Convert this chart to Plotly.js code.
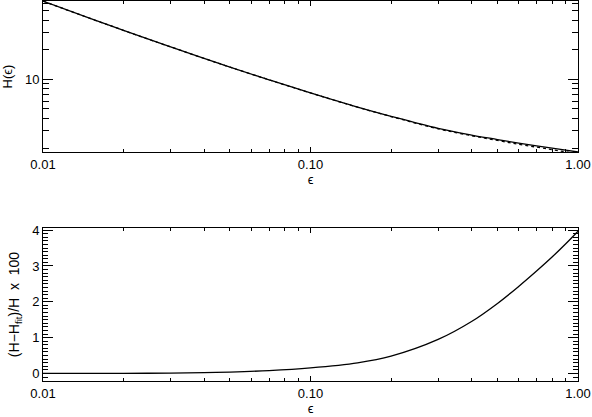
<!DOCTYPE html>
<html>
<head>
<meta charset="utf-8">
<script src="https://cdn.plot.ly/plotly-3.0.1.min.js"></script>
<style>
  html, body { margin: 0; padding: 0; background: #fff; }
  #chart { width: 592px; height: 417px; }
</style>
</head>
<body>
<div id="chart"></div>
<script>
// values
const eps = [0.01, 0.015, 0.02, 0.03, 0.04, 0.05, 0.07, 0.1, 0.15, 0.2, 0.3, 0.4, 0.5, 0.6, 0.7, 0.8, 0.9, 1.0];
const hVals = [63.0, 42.0, 31.7, 21.5, 16.4, 13.38, 9.92, 7.30, 5.23, 4.21, 3.17, 2.71, 2.44, 2.24, 2.10, 1.99, 1.90, 1.82];
const hFit = [63.0, 42.0, 31.7, 21.5, 16.4, 13.37, 9.91, 7.29, 5.21, 4.19, 3.14, 2.67, 2.39, 2.18, 2.04, 1.92, 1.83, 1.75];
const relDiff = [0, 0.002, 0.004, 0.01, 0.025, 0.04, 0.08, 0.155, 0.296, 0.483, 0.95, 1.45, 1.955, 2.43, 2.86, 3.25, 3.62, 3.97];

const xTickVals = [0.01, 0.1, 1];
const xTickText = ["0.01", "0.10", "1.00"];

const chartDiv = document.getElementById("chart");
const fnt = {family: "Liberation Sans, Arial, sans-serif", size: 13, color: "#000"};

const traces = [
    {x: eps, y: hFit, xaxis: "x", yaxis: "y", type: "scatter", mode: "lines",
     line: {color: "#000", width: 1.3, dash: "dot", shape: "spline", smoothing: 1}},
    {x: eps, y: hVals, xaxis: "x", yaxis: "y", type: "scatter", mode: "lines",
     line: {color: "#000", width: 1.3, shape: "spline", smoothing: 1}},
    {x: eps, y: relDiff, xaxis: "x2", yaxis: "y2", type: "scatter", mode: "lines",
     line: {color: "#000", width: 1.3, shape: "spline", smoothing: 1}}
];

function xAxis(anchor, standoff) {
    return {
        type: "log", range: [-2, 0], anchor: anchor,
        tickvals: xTickVals, ticktext: xTickText,
        ticks: "inside", ticklen: 5, tickwidth: 1, tickcolor: "#000",
        minor: {ticks: "inside", ticklen: 3, tickcolor: "#000", dtick: "D1", showgrid: false},
        showline: true, linecolor: "#000", linewidth: 1, mirror: "allticks",
        showgrid: false, zeroline: false, tickfont: fnt,
        title: {text: "ϵ", font: fnt, standoff: standoff}
    };
}

const layout = {
    width: 592, height: 417,
    margin: {t: 1, r: 14, b: 36, l: 43},
    paper_bgcolor: "#fff", plot_bgcolor: "#fff",
    showlegend: false, font: fnt,
    xaxis: xAxis("y", 4),
    xaxis2: xAxis("y2", 3),
    yaxis: {
        type: "log", range: [Math.log10(1.82), Math.log10(63.2)],
        domain: [0.6026, 1],
        dtick: 1, tick0: 0,
        ticks: "inside", ticklen: 10, tickwidth: 1, tickcolor: "#000",
        minor: {ticks: "inside", ticklen: 6, tickcolor: "#000", dtick: "D1", showgrid: false},
        showline: true, linecolor: "#000", linewidth: 1, mirror: "allticks",
        showgrid: false, zeroline: false, tickfont: fnt,
        title: {text: "H(ϵ)", font: fnt, standoff: 10}
    },
    yaxis2: {
        range: [-0.21, 4.06], domain: [0, 0.4026],
        dtick: 1, tick0: 0,
        ticks: "inside", ticklen: 10, tickwidth: 1, tickcolor: "#000",
        minor: {ticks: "inside", ticklen: 5, tickcolor: "#000", dtick: 0.1, showgrid: false},
        showline: true, linecolor: "#000", linewidth: 1, mirror: "allticks",
        showgrid: false, zeroline: false, tickfont: fnt,
        title: {text: "(H−H<sub>fit</sub>)/H  x  100", font: {family: fnt.family, size: 14, color: "#000"}, standoff: 9}
    }
};

Plotly.newPlot(chartDiv, traces, layout, {staticPlot: true});
</script>
</body>
</html>
